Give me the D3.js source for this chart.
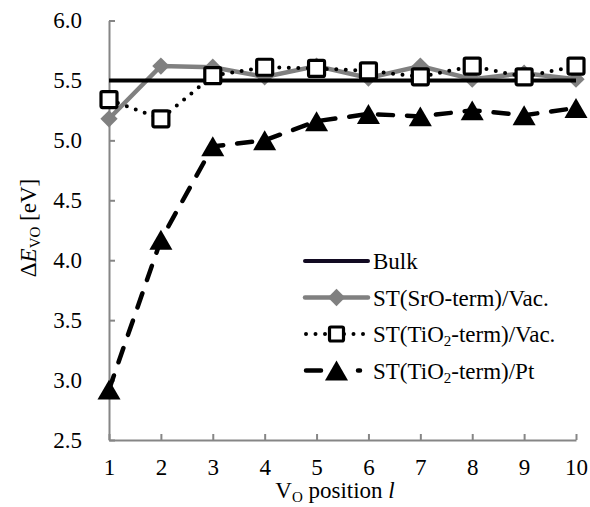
<!DOCTYPE html>
<html>
<head>
<meta charset="utf-8">
<script src="https://cdn.jsdelivr.net/npm/d3@7/dist/d3.min.js"></script>
<style>
  body { margin: 0; background: #fff; }
  svg text { font-family: "Liberation Serif", "Times New Roman", serif; fill: #000; }
</style>
</head>
<body>
<div id="chart"></div>
<script>
// data
const positions = [1, 2, 3, 4, 5, 6, 7, 8, 9, 10];
const bulk = [5.5, 5.5, 5.5, 5.5, 5.5, 5.5, 5.5, 5.5, 5.5, 5.5];
const sroVac = [5.18, 5.62, 5.61, 5.53, 5.62, 5.52, 5.62, 5.51, 5.56, 5.51];
const tio2Vac = [5.34, 5.18, 5.54, 5.61, 5.60, 5.58, 5.53, 5.62, 5.53, 5.62];
const tio2Pt = [2.92, 4.17, 4.95, 5.00, 5.16, 5.22, 5.20, 5.25, 5.21, 5.27];
const yTicks = [2.5, 3.0, 3.5, 4.0, 4.5, 5.0, 5.5, 6.0];
const legendNames = ['Bulk', 'ST(SrO-term)/Vac.', 'ST(TiO|2|-term)/Vac.', 'ST(TiO|2|-term)/Pt'];

const width = 590, height = 507;
const margin = {left: 109, right: 14, top: 20.5, bottom: 67};
const fs = '23px', subFs = '15px';

const svg = d3.select('#chart').append('svg')
  .attr('width', width).attr('height', height);

const x = d3.scaleLinear().domain([1, 10]).range([margin.left, width - margin.right]);
const y = d3.scaleLinear().domain([2.5, 6.0]).range([height - margin.bottom, margin.top]);

// axes, ticks pointing inward
const axisColor = '#868686';
const xAxis = svg.append('g')
  .attr('transform', 'translate(0,' + y(2.5) + ')')
  .call(d3.axisBottom(x).tickValues(positions).tickSizeInner(-6).tickSizeOuter(0).tickPadding(19).tickFormat(d3.format('d')));
const yAxis = svg.append('g')
  .attr('transform', 'translate(' + x(1) + ',0)')
  .call(d3.axisLeft(y).tickValues(yTicks).tickSizeInner(-6).tickSizeOuter(0).tickPadding(27).tickFormat(d3.format('.1f')));
[xAxis, yAxis].forEach(function(g){
  g.attr('font-family', null).attr('font-size', null);
  g.selectAll('path, line').attr('stroke', axisColor).attr('stroke-width', 2);
  g.selectAll('text').style('font-size', fs);
});
xAxis.selectAll('text').attr('dy', '0.71em');

const line = d3.line().x((d, i) => x(positions[i])).y(d => y(d));

// SrO-term / Vac (gray, diamonds)
const gray = '#808080';
svg.append('path').datum(sroVac).attr('d', line)
  .attr('fill', 'none').attr('stroke', gray).attr('stroke-width', 4.5);
const diamond = d3.symbol().type(d3.symbolDiamond2).size(190);
svg.selectAll('.dia').data(sroVac).enter().append('path')
  .attr('class', 'dia')
  .attr('d', diamond)
  .attr('transform', (d, i) => 'translate(' + x(positions[i]) + ',' + y(d) + ')')
  .attr('fill', gray);

// Bulk
svg.append('path').datum(bulk).attr('d', line)
  .attr('fill', 'none').attr('stroke', '#000').attr('stroke-width', 4);

// TiO2-term / Vac (dotted, open squares)
svg.append('path').datum(tio2Vac).attr('d', line)
  .attr('fill', 'none').attr('stroke', '#000').attr('stroke-width', 4)
  .attr('stroke-linecap', 'round').attr('stroke-dasharray', '0 9.5');
svg.selectAll('.sq').data(tio2Vac).enter().append('rect')
  .attr('class', 'sq')
  .attr('x', (d, i) => x(positions[i]) - 8).attr('y', d => y(d) - 8)
  .attr('width', 16).attr('height', 16).attr('rx', 1.5)
  .attr('fill', '#fff').attr('stroke', '#000').attr('stroke-width', 3.2);

// TiO2-term / Pt (dashed, filled triangles)
svg.append('path').datum(tio2Pt).attr('d', line)
  .attr('fill', 'none').attr('stroke', '#000').attr('stroke-width', 4.5)
  .attr('stroke-linecap', 'round').attr('stroke-dasharray', '15 14');
const tri = d3.symbol().type(d3.symbolTriangle).size(230);
const triShift = 3.3; // centre the triangle's box on the point
svg.selectAll('.tri').data(tio2Pt).enter().append('path')
  .attr('class', 'tri')
  .attr('d', tri)
  .attr('transform', (d, i) => 'translate(' + x(positions[i]) + ',' + (y(d) + triShift) + ')')
  .attr('fill', '#000');

// legend
const legend = svg.append('g').attr('transform', 'translate(305,0)');
const rowY = [261, 297.5, 334, 370.5];
const lx0 = 0, lx1 = 63, lmid = 31.5;
// Bulk
legend.append('line').attr('x1', lx0).attr('x2', lx1).attr('y1', rowY[0]).attr('y2', rowY[0])
  .attr('stroke', '#120a22').attr('stroke-width', 4).attr('stroke-linecap', 'round');
// SrO
legend.append('line').attr('x1', lx0).attr('x2', lx1).attr('y1', rowY[1]).attr('y2', rowY[1])
  .attr('stroke', gray).attr('stroke-width', 4.5).attr('stroke-linecap', 'round');
legend.append('path').attr('d', diamond).attr('fill', gray)
  .attr('transform', 'translate(' + lmid + ',' + rowY[1] + ')');
// TiO2 vac
legend.append('line').attr('x1', lx0 + 1).attr('x2', lx1).attr('y1', rowY[2]).attr('y2', rowY[2])
  .attr('stroke', '#000').attr('stroke-width', 4).attr('stroke-linecap', 'round').attr('stroke-dasharray', '0 9.5');
legend.append('rect').attr('x', lmid - 7).attr('y', rowY[2] - 7).attr('width', 14).attr('height', 14)
  .attr('rx', 1.5).attr('fill', '#fff').attr('stroke', '#000').attr('stroke-width', 3.2);
// TiO2 Pt
legend.append('line').attr('x1', lx0 + 1).attr('x2', lx1 - 8).attr('y1', rowY[3]).attr('y2', rowY[3])
  .attr('stroke', '#000').attr('stroke-width', 4.5).attr('stroke-linecap', 'round').attr('stroke-dasharray', '15 37');
legend.append('path').attr('d', tri).attr('fill', '#000')
  .attr('transform', 'translate(' + lmid + ',' + (rowY[3] + triShift) + ')');

// legend labels, "|" marks a subscript part
legendNames.forEach(function(name, i){
  const t = legend.append('text').attr('x', 68).attr('y', rowY[i]).attr('dy', '0.35em')
    .style('font-size', fs);
  name.split('|').forEach(function(part, j){
    const ts = t.append('tspan').text(part);
    if (j % 2 === 1) ts.attr('baseline-shift', '-25%').style('font-size', subFs);
  });
});

// axis titles
const xt = svg.append('text').attr('x', 335).attr('y', 498)
  .attr('text-anchor', 'middle').style('font-size', fs);
xt.append('tspan').text('V');
xt.append('tspan').attr('baseline-shift', '-25%').style('font-size', subFs).text('O');
xt.append('tspan').text(' position ');
xt.append('tspan').style('font-style', 'italic').text('l');

const yt = svg.append('text')
  .attr('transform', 'translate(36,228) rotate(-90)')
  .attr('text-anchor', 'middle').style('font-size', fs);
yt.append('tspan').text('Δ');
yt.append('tspan').style('font-style', 'italic').text('E');
yt.append('tspan').attr('baseline-shift', '-25%').style('font-size', subFs).text('VO');
yt.append('tspan').text(' [eV]');
</script>
</body>
</html>
